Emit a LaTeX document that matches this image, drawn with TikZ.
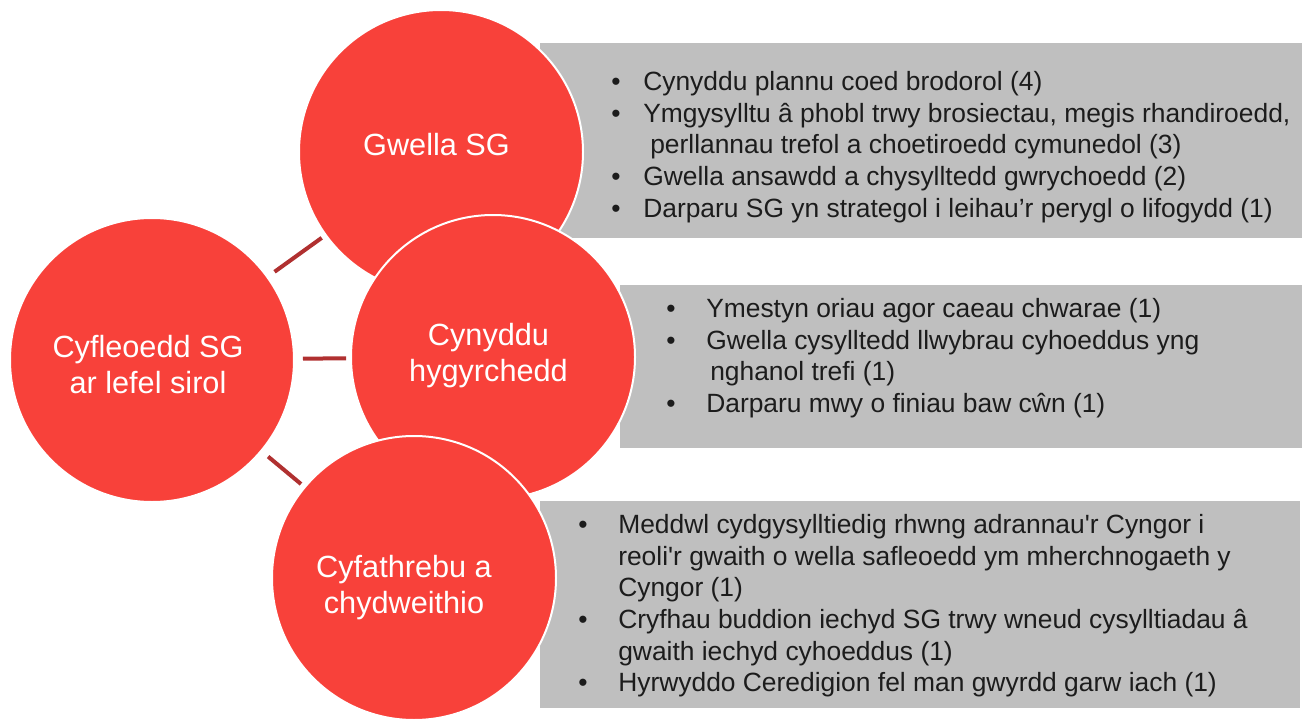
\documentclass[tikz,border=0pt]{standalone}
\usepackage{fontspec}
\setmainfont{Liberation Sans}
\usetikzlibrary{positioning}
\definecolor{circred}{RGB}{248,65,58}
\definecolor{boxgrey}{RGB}{191,191,191}
\definecolor{linkred}{RGB}{176,48,48}
\definecolor{itemtext}{RGB}{28,28,28}
\newcommand{\itemdot}[1]{\makebox[#1][l]{\textbullet}}
\tikzset{
  theme/.style = {circle, fill=circred, draw=white, line width=1.5pt, minimum size=213pt, inner sep=0pt},
  themetext/.style = {anchor=north, inner sep=0pt, align=center, text=white,
                      font=\fontsize{23}{27.4}\selectfont},
  greybox/.style = {rectangle, fill=boxgrey, inner sep=0pt, anchor=north west},
  itemlist/.style = {anchor=north west, inner sep=0pt, align=left, text=itemtext,
                     font=\fontsize{19.8}{23.8}\selectfont},
  link/.style = {draw=linkred, line width=3pt, shorten <=6pt, shorten >=3pt},
}
\begin{document}
\begin{tikzpicture}[x=0.75pt, y=-0.75pt]
\useasboundingbox (0,0) rectangle (1307,724);

% grey boxes behind the circles
\node[greybox, minimum width=571pt, minimum height=146pt] (goodbox) at (540,43) {};
\node[greybox, minimum width=511pt, minimum height=122pt] (accessbox) at (620,285) {};
\node[greybox, minimum width=570pt, minimum height=155pt] (talkbox) at (540,501) {};

% the four circles
\node[theme] (county) at (152,360) {};
\node[theme] (improve) at (441,152) {};
\node[theme] (access) at (493,357) {};
\node[theme] (talk) at (414,578) {};

% circle texts
\node[themetext] (countytext) at (148,331.4) {\strut Cyfleoedd SG\\ar lefel sirol};
\node[themetext] (improvetext) at (436.5,129.4) {\strut Gwella SG};
\node[themetext] (accesstext) at (488.5,319.4) {\strut Cynyddu\\hygyrchedd};
\node[themetext] (talktext) at (404,551.4) {\strut Cyfathrebu a\\chydweithio};

% links
\draw[link] (county) -- (improve);
\draw[link] (county) -- (access);
\draw[link] (county) -- (talk);

% lists
\node[itemlist] (goodlist) at (611,67.8) {%
  \strut\itemdot{24pt}Cynyddu plannu coed brodorol (4)\\
  \itemdot{24pt}Ymgysylltu â phobl trwy brosiectau, megis rhandiroedd,\\
  \hspace*{29.25pt}perllannau trefol a choetiroedd cymunedol (3)\\
  \itemdot{24pt}Gwella ansawdd a chysylltedd gwrychoedd (2)\\
  \itemdot{24pt}Darparu SG yn strategol i leihau’r perygl o lifogydd (1)};
\node[itemlist] (accesslist) at (666,294.8) {%
  \strut\itemdot{30pt}Ymestyn oriau agor caeau chwarae (1)\\
  \itemdot{30pt}Gwella cysylltedd llwybrau cyhoeddus yng\\
  \hspace*{33pt}nghanol trefi (1)\\
  \itemdot{30pt}Darparu mwy o finiau baw cŵn (1)};
\node[itemlist] (talklist) at (578,510.8) {%
  \strut\itemdot{30pt}Meddwl cydgysylltiedig rhwng adrannau\textquotesingle r Cyngor i\\
  \hspace*{30pt}reoli\textquotesingle r gwaith o wella safleoedd ym mherchnogaeth y\\
  \hspace*{30pt}Cyngor (1)\\
  \itemdot{30pt}Cryfhau buddion iechyd SG trwy wneud cysylltiadau â\\
  \hspace*{30pt}gwaith iechyd cyhoeddus (1)\\
  \itemdot{30pt}Hyrwyddo Ceredigion fel man gwyrdd garw iach (1)};

\end{tikzpicture}
\end{document}
